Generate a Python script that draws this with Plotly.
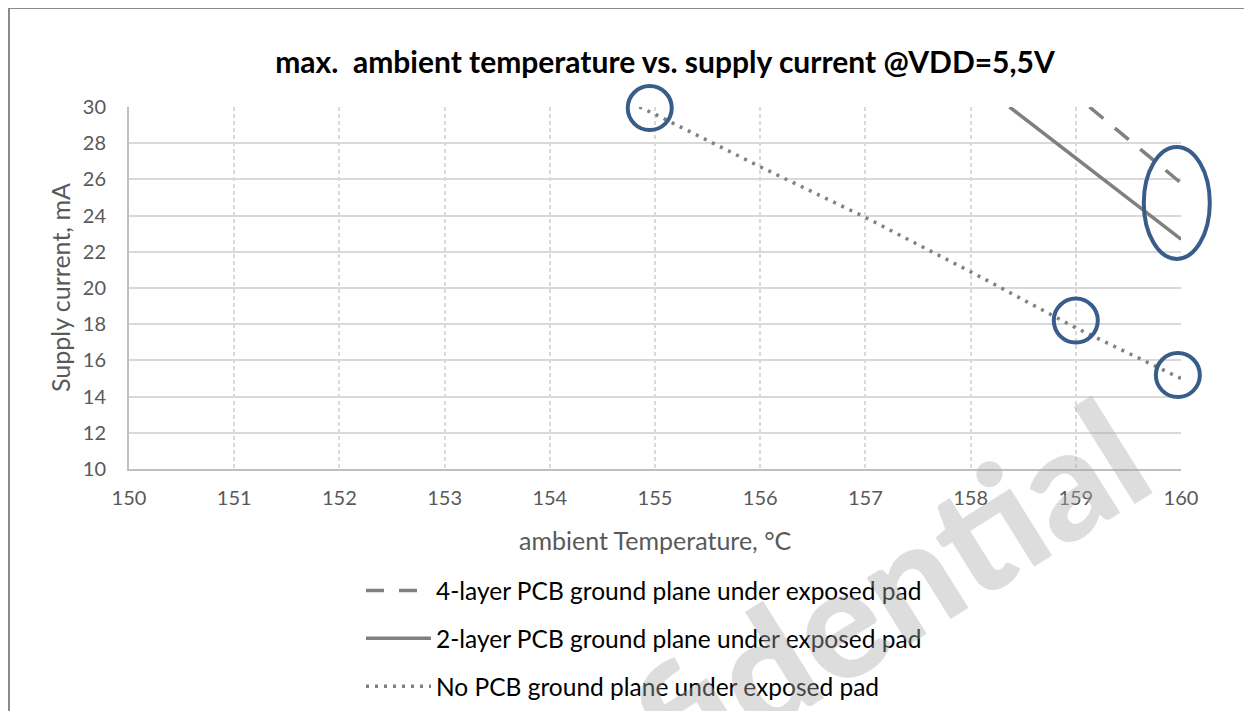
import plotly.graph_objects as go

# ---------------- data ----------------
series_names = [
    "4-layer PCB ground plane under exposed pad",
    "2-layer PCB ground plane under exposed pad",
    "No PCB ground plane under exposed pad",
]
temp_4layer = [159.13, 160.0]
curr_4layer = [30.0, 25.8]
temp_2layer = [158.37, 160.0]
curr_2layer = [30.0, 22.7]
temp_nopad = [154.85, 155.0, 156.0, 157.0, 158.0, 159.0, 160.0]
curr_nopad = [30.0, 29.6, 26.7, 23.9, 20.9, 17.8, 15.0]

x_ticks = list(range(150, 161))
y_ticks = list(range(10, 31, 2))
x_range = [150, 160]
y_range = [10, 30]

# highlighted points (annotation circles)
circle_x = [154.95, 159.0, 159.97]
circle_y = [29.94, 18.2, 15.19]
ellipse_x = [159.96]
ellipse_y = [24.7]

# ---------------- style ----------------
W, H = 1244, 703          # page adds an 8px body margin around the figure
ML, MR, MT, MB = 121, 71, 99, 242
PW, PH = W - ML - MR, H - MT - MB
FONT = "Lato, 'Open Sans', sans-serif"
LINE_GREY = "#808080"
CIRCLE_BLUE = "#385d8a"


def px_x(p):
    return (p - ML) / PW


def px_y(p):
    return (H - MB - p) / PH


def to_paper_x(v):
    return (v - x_range[0]) / (x_range[1] - x_range[0])


def to_paper_y(v):
    return (v - y_range[0]) / (y_range[1] - y_range[0])


fig = go.Figure()
fig.add_trace(go.Scatter(x=temp_4layer, y=curr_4layer, mode="lines", name=series_names[0],
                         legendgroup="a",
                         line=dict(color=LINE_GREY, width=3.5, dash="18px,15px")))
fig.add_trace(go.Scatter(x=temp_2layer, y=curr_2layer, mode="lines", name=series_names[1],
                         legendgroup="b",
                         line=dict(color=LINE_GREY, width=3.5)))
fig.add_trace(go.Scatter(x=temp_nopad, y=curr_nopad, mode="lines", name=series_names[2],
                         legendgroup="c",
                         line=dict(color=LINE_GREY, width=3.5, dash="3px,6px")))

shapes = []
# figure border (top & left visible)
shapes.append(dict(type="rect", xref="paper", yref="paper",
                   x0=px_x(1), x1=px_x(W + 20),
                   y0=px_y(H + 40), y1=px_y(0),
                   line=dict(color="#8a8a8a", width=2), layer="below"))
for cx, cy in zip(circle_x, circle_y):
    shapes.append(dict(type="circle", xref="paper", yref="paper",
                       xsizemode="pixel", ysizemode="pixel",
                       xanchor=to_paper_x(cx), yanchor=to_paper_y(cy),
                       x0=-22, x1=22, y0=-22, y1=22,
                       line=dict(color=CIRCLE_BLUE, width=4)))
for ex, ey in zip(ellipse_x, ellipse_y):
    shapes.append(dict(type="circle", xref="paper", yref="paper",
                       xsizemode="pixel", ysizemode="pixel",
                       xanchor=to_paper_x(ex), yanchor=to_paper_y(ey),
                       x0=-33, x1=33, y0=-56, y1=56,
                       line=dict(color=CIRCLE_BLUE, width=4)))

annotations = [
    # watermark
    dict(text="Confidential", xref="paper", yref="paper",
         x=px_x(762), y=px_y(653),
         xanchor="center", yanchor="middle", showarrow=False, textangle=-32,
         font=dict(family=FONT, size=154, weight=900, color="rgba(170,170,170,0.40)")),
    # axis titles
    dict(text="ambient Temperature, °C", xref="paper", yref="paper",
         x=0.5, y=px_y(532), xanchor="center", yanchor="middle",
         showarrow=False, font=dict(family=FONT, size=25, color="#595959")),
    dict(text="Supply current, mA", xref="paper", yref="paper",
         x=px_x(52), y=0.5, xanchor="center", yanchor="middle",
         textangle=-90, showarrow=False, font=dict(family=FONT, size=25, color="#595959")),
]

fig.update_layout(
    width=W, height=H,
    margin=dict(l=ML, r=MR, t=MT, b=MB, autoexpand=False),
    paper_bgcolor="white", plot_bgcolor="white",
    title=dict(text="<b>max.  ambient temperature vs. supply current @VDD=5,5V</b>",
               x=657 / W, xref="container", xanchor="center",
               y=1 - 54 / H, yref="container", yanchor="middle",
               font=dict(family=FONT, size=30, color="black")),
    font=dict(family=FONT),
    showlegend=True,
    legend=dict(x=px_x(353), xanchor="left",
                y=px_y(560), yanchor="top",
                traceorder="grouped", tracegroupgap=13, itemwidth=65,
                font=dict(family=FONT, size=24.5, color="black"),
                bgcolor="rgba(0,0,0,0)"),
    shapes=shapes,
    annotations=annotations,
)
fig.update_xaxes(range=x_range, tickvals=x_ticks, ticktext=[str(v) for v in x_ticks],
                 showgrid=True, gridcolor="#d9d9d9", gridwidth=1.5, griddash="4px,3px",
                 showline=True, linecolor="#bfbfbf", linewidth=2, zeroline=False,
                 ticks="", ticklabelstandoff=10,
                 tickfont=dict(family=FONT, size=20, color="#595959"))
fig.update_yaxes(range=y_range, tickvals=y_ticks, ticktext=[str(v) for v in y_ticks],
                 showgrid=True, gridcolor="#d9d9d9", gridwidth=1.5,
                 showline=True, linecolor="#bfbfbf", linewidth=2, zeroline=False,
                 ticks="", ticklabelstandoff=17,
                 tickfont=dict(family=FONT, size=20, color="#595959"))

fig.write_html("out.html")
